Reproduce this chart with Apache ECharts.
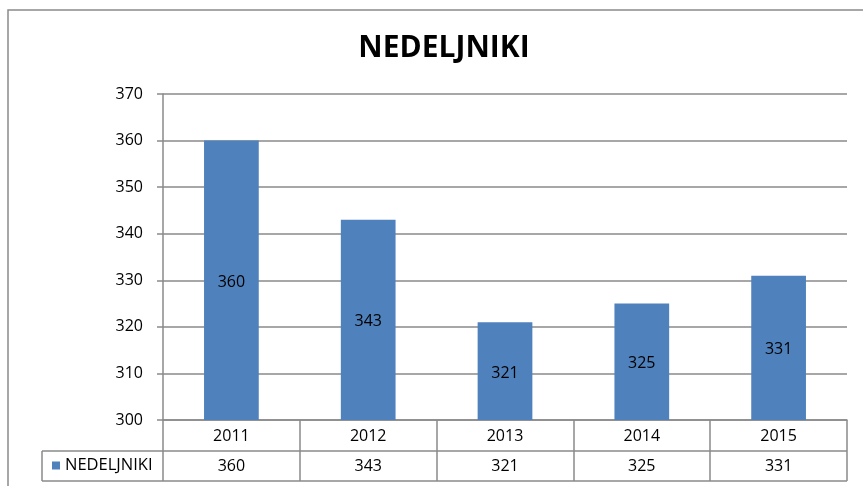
<!DOCTYPE html>
<html><head><meta charset="utf-8">
<script src="https://cdn.jsdelivr.net/npm/echarts@6/dist/echarts.min.js"></script>
<style>html,body{margin:0;padding:0;background:#fff}#c{width:863px;height:486px}</style>
</head><body><div id="c"></div>
<script>
const categories = ['2011', '2012', '2013', '2014', '2015'];
const seriesName = 'NEDELJNIKI';
const values = [360, 343, 321, 325, 331];
const yTicks = { min: 300, max: 370, interval: 10 };

const FONT = '"Open Sans", "Noto Sans", sans-serif';
const LINE = '#8a8a8a';
const chart = echarts.init(document.getElementById('c'), null, { renderer: 'canvas' });
chart.setOption({
  animation: false,
  backgroundColor: '#fff',
  textStyle: { fontFamily: FONT },
  title: {
    text: 'NEDELJNIKI', left: 439, top: 28, textAlign: 'center',
    textStyle: { fontFamily: FONT, fontSize: 30, fontWeight: 'bold', color: '#000' }
  },
  legend: {
    data: [seriesName], left: 52, top: 457, padding: 0,
    itemWidth: 8, itemHeight: 8, itemGap: 5, icon: 'rect',
    textStyle: { fontFamily: FONT, fontSize: 16.5, color: '#000', padding: [1, 0, 0, 0] }
  },
  grid: { left: 163, top: 94, right: 16, bottom: 66, containLabel: false },
  xAxis: [{
    type: 'category', data: categories, position: 'bottom',
    axisLine: { lineStyle: { color: LINE, width: 1.5 } },
    axisTick: { show: true, length: 61, inside: false, lineStyle: { color: LINE, width: 1.5 } },
    axisLabel: { color: '#000', fontSize: 16, margin: 8, fontFamily: FONT }
  }, {
    type: 'category', data: values.map(String), position: 'bottom', offset: 31,
    axisLine: { show: false }, axisTick: { show: false },
    axisLabel: { color: '#000', fontSize: 16, margin: 7, fontFamily: FONT }
  }],
  yAxis: {
    type: 'value', min: yTicks.min, max: yTicks.max, interval: yTicks.interval,
    axisLine: { show: true, lineStyle: { color: LINE, width: 1.5 } },
    axisTick: { show: true, length: 6, lineStyle: { color: LINE, width: 1.5 } },
    axisLabel: { color: '#000', fontSize: 16, margin: 20, fontFamily: FONT },
    splitLine: { show: true, lineStyle: { color: LINE, width: 1.5 } }
  },
  series: [{
    name: seriesName, type: 'bar', data: values, barWidth: '40%', xAxisIndex: 0,
    itemStyle: { color: '#4F81BD' },
    label: { show: true, position: 'inside', color: '#000', fontSize: 16, fontFamily: FONT, offset: [0, 2] }
  }],
  graphic: [
    { type: 'rect', shape: { x: 8, y: 10, width: 900, height: 520 }, style: { fill: null, stroke: LINE, lineWidth: 1.5 }, silent: true },
    { type: 'line', shape: { x1: 42, y1: 451, x2: 847, y2: 451 }, style: { stroke: LINE, lineWidth: 1.5 } },
    { type: 'line', shape: { x1: 42, y1: 481, x2: 847, y2: 481 }, style: { stroke: LINE, lineWidth: 1.5 } },
    { type: 'line', shape: { x1: 42, y1: 451, x2: 42, y2: 481 }, style: { stroke: LINE, lineWidth: 1.5 } }
  ]
});
</script></body></html>
